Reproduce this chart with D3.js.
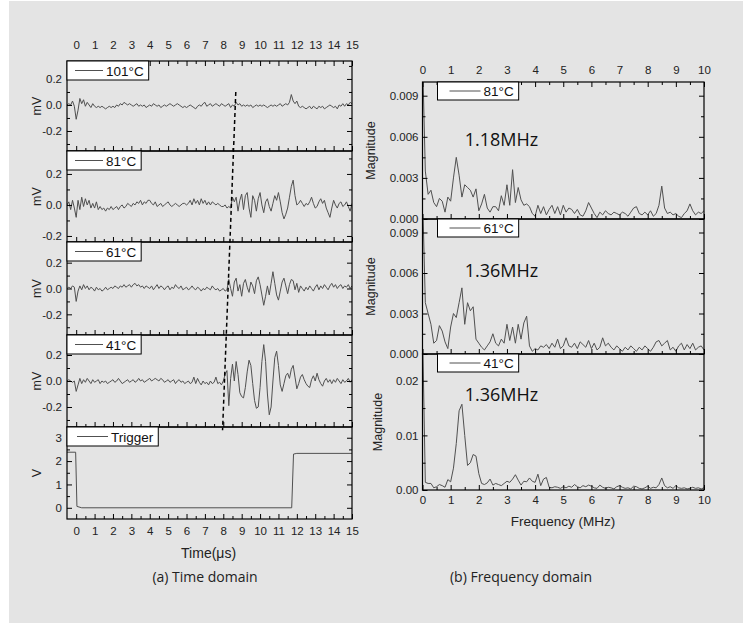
<!DOCTYPE html>
<html>
<head>
<meta charset="utf-8">
<script src="https://cdn.jsdelivr.net/npm/d3@7"></script>
<style>
  body { margin: 0; background: #fff; }
  svg { display: block; }
</style>
</head>
<body>
<div id="chart"></div>
<script>
// scope traces, sampled every 0.1 us from -0.5 us
var timeStart = -0.5;
var timeStep = 0.1;

var trace101 = [
  0.00, 0.01, 0.00, 0.03, -0.01,
  -0.11, -0.04, 0.05, 0.01, 0.04, -0.01, 0.02, 0.00, -0.02, 0.01,
  -0.01, -0.02, -0.01, -0.02, -0.01, -0.02, -0.03, -0.02, -0.01, -0.02,
  -0.01, -0.02, 0.00, -0.01, 0.01, 0.00, 0.02, 0.01, 0.00, 0.01,
  0.00, -0.01, 0.00, 0.01, -0.01, 0.00, -0.01, 0.00, -0.02, -0.01,
  0.00, -0.01, 0.01, 0.00, -0.01, 0.00, -0.02, -0.01, 0.00, -0.01,
  0.00, 0.01, 0.00, -0.01, 0.00, 0.01, 0.00, -0.01, -0.02, -0.01,
  -0.02, -0.01, 0.00, -0.01, -0.02, -0.03, -0.01, 0.00, -0.01, 0.01,
  0.02, -0.01, 0.00, 0.01, -0.01, 0.00, 0.01, 0.00, -0.01, 0.01,
  0.00, -0.01, 0.00, 0.01, -0.02, 0.00, -0.01, 0.02, 0.00, 0.01,
  -0.01, 0.00, -0.01, 0.00, -0.01, 0.00, -0.02, -0.01, 0.00, -0.01,
  0.00, -0.01, 0.00, -0.01, -0.02, -0.01, 0.00, -0.01, 0.00, -0.01,
  0.00, 0.01, -0.01, 0.00, 0.01, 0.00, 0.02, 0.08, 0.03, 0.01,
  0.03, -0.01, -0.02, -0.01, -0.02, -0.03, -0.02, -0.01, -0.03, -0.01,
  -0.02, -0.03, -0.01, -0.02, -0.01, -0.03, -0.02, -0.01, 0.00, -0.01,
  -0.02, -0.01, -0.03, 0.00, -0.01, 0.01, -0.01, 0.01, 0.00, 0.02,
  0.01
];

var trace81 = [
  0.00, 0.02, -0.03, 0.03, -0.02,
  -0.08, 0.03, -0.03, 0.05, -0.01, 0.04, 0.00, 0.03, -0.02, 0.01,
  -0.02, 0.02, -0.03, -0.01, -0.03, -0.02, -0.04, -0.02, -0.03, -0.01,
  -0.03, -0.02, -0.01, -0.03, -0.01, 0.00, -0.02, -0.01, 0.01, 0.00,
  -0.01, 0.01, 0.00, 0.02, 0.01, 0.03, 0.00, 0.02, 0.01, 0.03,
  0.03, 0.01, 0.00, 0.02, -0.01, 0.00, 0.01, -0.01, 0.00, 0.01,
  0.02, 0.00, -0.01, 0.00, 0.01, 0.00, -0.01, 0.00, 0.01, 0.01,
  0.00, 0.01, 0.03, 0.00, 0.04, 0.01, 0.03, 0.00, 0.04, 0.01,
  0.03, 0.00, 0.02, 0.00, 0.02, 0.01, 0.00, 0.01, 0.00, -0.01,
  -0.01, 0.00, -0.02, -0.01, -0.02, 0.05, 0.02, 0.05, -0.04, 0.03,
  0.07, -0.03, 0.06, 0.08, -0.02, -0.08, 0.06, 0.03, -0.04, 0.04,
  0.08, 0.00, -0.05, 0.02, 0.04, -0.01, -0.04, 0.01, 0.06, 0.03,
  0.08, 0.02, -0.05, -0.09, -0.06, -0.02, 0.05, 0.12, 0.16, 0.06,
  0.00, 0.01, 0.03, 0.01, -0.01, 0.01, 0.00, 0.02, 0.05, 0.01,
  -0.02, -0.01, 0.02, 0.04, 0.01, 0.03, -0.02, -0.05, -0.08, -0.02,
  0.03, 0.00, -0.02, 0.01, 0.02, -0.01, 0.00, 0.02, -0.01, -0.04,
  0.01
];

var trace61 = [
  0.00, 0.01, 0.00, 0.02, 0.01,
  -0.10, -0.02, 0.02, -0.01, 0.03, 0.00, 0.02, -0.01, 0.01, 0.00,
  -0.02, 0.01, -0.01, 0.00, -0.02, -0.01, 0.01, -0.01, 0.00, 0.01,
  0.00, 0.02, 0.01, 0.00, 0.02, 0.01, 0.03, 0.01, 0.02, 0.03,
  0.01, 0.03, 0.04, 0.02, 0.03, 0.01, 0.02, 0.00, 0.02, 0.01,
  0.00, 0.02, -0.01, 0.01, 0.03, 0.00, 0.02, 0.01, -0.01, 0.01,
  0.02, -0.01, 0.01, 0.00, 0.03, 0.01, 0.00, 0.02, -0.01, 0.00,
  0.01, -0.01, 0.00, 0.02, 0.00, -0.01, 0.01, 0.00, -0.02, 0.00,
  -0.01, 0.01, 0.00, -0.01, 0.02, 0.00, -0.01, 0.00, -0.02, -0.01,
  0.00, -0.02, -0.01, 0.07, 0.00, -0.06, 0.05, 0.08, -0.02, 0.03,
  -0.06, 0.04, 0.07, 0.01, -0.03, 0.05, 0.02, -0.04, 0.06, 0.09,
  0.03, -0.05, -0.13, -0.06, 0.02, -0.05, 0.04, 0.13, 0.04, -0.05,
  -0.09, -0.02, 0.05, 0.08, 0.02, -0.04, 0.03, 0.07, 0.06, -0.01,
  0.04, -0.03, 0.02, 0.00, -0.02, 0.01, -0.01, 0.02, 0.00, -0.02,
  0.01, 0.03, -0.01, 0.02, 0.00, 0.03, 0.01, -0.01, 0.02, 0.04,
  0.01, 0.03, 0.00, 0.02, 0.03, 0.00, 0.02, 0.01, 0.03, 0.00,
  0.02
];

var trace41 = [
  0.00, 0.01, 0.00, -0.01, 0.00,
  -0.08, -0.03, 0.02, -0.02, 0.01, -0.01, 0.02, 0.00, -0.02, 0.01,
  -0.01, 0.00, 0.01, -0.02, 0.00, -0.01, 0.00, -0.02, -0.01, 0.00,
  0.01, -0.01, 0.00, 0.02, 0.00, -0.02, -0.01, 0.00, 0.01, -0.01,
  0.00, 0.01, -0.01, 0.00, 0.02, 0.00, 0.01, -0.01, 0.00, 0.01,
  0.02, 0.00, 0.01, 0.02, 0.01, 0.00, 0.02, 0.01, -0.01, 0.00,
  0.01, -0.01, 0.00, 0.01, -0.02, 0.00, 0.01, -0.01, 0.00, -0.02,
  -0.01, 0.00, -0.02, -0.01, 0.03, -0.02, 0.02, -0.01, -0.03, 0.00,
  -0.02, -0.01, -0.03, 0.00, -0.02, -0.01, 0.03, -0.02, -0.01, -0.03,
  0.00, 0.05, 0.08, -0.19, 0.02, 0.13, 0.00, 0.15, 0.05, -0.09,
  -0.12, -0.13, -0.05, 0.07, 0.16, 0.12, -0.02, -0.15, -0.21, -0.20,
  -0.05, 0.15, 0.28, 0.15, -0.10, -0.26, -0.20, 0.00, 0.18, 0.23,
  0.12, -0.03, -0.08, -0.02, 0.04, 0.06, 0.02, 0.09, 0.12, 0.03,
  -0.06, -0.02, 0.03, 0.05, 0.01, -0.02, -0.04, -0.05, 0.01, 0.04,
  0.00, 0.06, 0.01, -0.02, -0.04, 0.00, 0.02, -0.01, 0.01, -0.02,
  0.01, -0.01, 0.02, 0.00, -0.02, 0.01, -0.01, 0.00, 0.02, -0.01,
  0.01
];

var triggerT = [-0.5, -0.03, 0.04, 0.3, 11.72, 11.82, 12.0, 15.0];
var triggerV = [2.38, 2.38, 0.06, 0.0, 0.0, 2.30, 2.33, 2.33];

// spectra, sampled every 0.1 MHz from 0
var freqStep = 0.1;

var spec81 = [
  0.0120, 0.0035, 0.0018, 0.0021, 0.0012, 0.0009, 0.0015, 0.0013, 0.0005, 0.0016,
  0.0013, 0.0030, 0.0045, 0.0032, 0.0016, 0.0025, 0.0023, 0.0021, 0.0016, 0.0022,
  0.0006, 0.0011, 0.0018, 0.0008, 0.0005, 0.0009, 0.0009, 0.0006, 0.0017, 0.0010,
  0.0025, 0.0010, 0.0036, 0.0012, 0.0023, 0.0014, 0.0010, 0.0011, 0.0009, 0.0004,
  0.0002, 0.0010, 0.0004, 0.0009, 0.0003, 0.0007, 0.0010, 0.0004, 0.0009, 0.0003,
  0.0010, 0.0005, 0.0008, 0.0007, 0.0004, 0.0007, 0.0003, 0.0002, 0.0006, 0.0012,
  0.0008, 0.0004, 0.0001, 0.0005, 0.0003, 0.0006, 0.0004, 0.0003, 0.0005, 0.0004,
  0.0003, 0.0005, 0.0004, 0.0002, 0.0005, 0.0008, 0.0009, 0.0004, 0.0003, 0.0005,
  0.0003, 0.0006, 0.0002, 0.0004, 0.0010, 0.0024, 0.0008, 0.0004, 0.0005, 0.0003,
  0.0004, 0.0002, 0.0001, 0.0004, 0.0006, 0.0011, 0.0006, 0.0003, 0.0005, 0.0004,
  0.0006
];

var spec61 = [
  0.0120, 0.0038, 0.0030, 0.0022, 0.0008, 0.0010, 0.0021, 0.0017, 0.0009, 0.0004,
  0.0020, 0.0030, 0.0027, 0.0038, 0.0049, 0.0022, 0.0038, 0.0032, 0.0035, 0.0011,
  0.0008, 0.0005, 0.0003, 0.0006, 0.0009, 0.0015, 0.0008, 0.0006, 0.0011, 0.0008,
  0.0022, 0.0010, 0.0020, 0.0008, 0.0022, 0.0011, 0.0023, 0.0028, 0.0006, 0.0002,
  0.0004, 0.0003, 0.0006, 0.0005, 0.0007, 0.0004, 0.0008, 0.0005, 0.0011, 0.0004,
  0.0006, 0.0012, 0.0006, 0.0005, 0.0008, 0.0004, 0.0009, 0.0007, 0.0005, 0.0010,
  0.0004, 0.0008, 0.0003, 0.0005, 0.0012, 0.0006, 0.0008, 0.0005, 0.0003, 0.0006,
  0.0004, 0.0002, 0.0005, 0.0003, 0.0006, 0.0004, 0.0002, 0.0005, 0.0003, 0.0006,
  0.0004, 0.0002, 0.0005, 0.0009, 0.0010, 0.0006, 0.0008, 0.0010, 0.0003, 0.0005,
  0.0002, 0.0006, 0.0008, 0.0003, 0.0007, 0.0004, 0.0008, 0.0003, 0.0005, 0.0006,
  0.0003
];

var spec41 = [
  0.0300, 0.0014, 0.0012, 0.0012, 0.0004, 0.0006, 0.0010, 0.0008, 0.0005, 0.0019,
  0.0015, 0.0040, 0.0085, 0.0145, 0.0157, 0.0100, 0.0045, 0.0050, 0.0065, 0.0062,
  0.0030, 0.0012, 0.0010, 0.0013, 0.0020, 0.0009, 0.0012, 0.0010, 0.0008, 0.0012,
  0.0016, 0.0014, 0.0020, 0.0028, 0.0018, 0.0009, 0.0016, 0.0015, 0.0022, 0.0016,
  0.0014, 0.0029, 0.0008, 0.0020, 0.0023, 0.0005, 0.0004, 0.0006, 0.0005, 0.0003,
  0.0006, 0.0004, 0.0007, 0.0005, 0.0010, 0.0006, 0.0004, 0.0008, 0.0006, 0.0009,
  0.0007, 0.0004, 0.0003, 0.0009, 0.0005, 0.0003, 0.0005, 0.0004, 0.0002, 0.0006,
  0.0008, 0.0005, 0.0003, 0.0004, 0.0002, 0.0007, 0.0006, 0.0003, 0.0002, 0.0004,
  0.0007, 0.0003, 0.0005, 0.0004, 0.0010, 0.0022, 0.0008, 0.0004, 0.0006, 0.0003,
  0.0008, 0.0004, 0.0003, 0.0004, 0.0002, 0.0003, 0.0005, 0.0003, 0.0004, 0.0002,
  0.0004
];

// tick labels
var timeTicks = [0, 1, 2, 3, 4, 5, 6, 7, 8, 9, 10, 11, 12, 13, 14, 15];
var freqTicks = [0, 1, 2, 3, 4, 5, 6, 7, 8, 9, 10];
var mvTicks = [-0.2, 0.0, 0.2];
var voltTicks = [0, 1, 2, 3];
var magTicks = [0, 0.003, 0.006, 0.009];
var magTicks41 = [0, 0.01, 0.02];

// arrival line drawn across the traces: [time, panel, value]
var arrivalStart = [8.68, 0, 0.10];
var arrivalEnd = [7.96, 4, 3.32];

// peak notes: [freq, magnitude, text]
var peakNotes = [
  [1.5, 0.0053, "1.18MHz"],
  [1.5, 0.0057, "1.36MHz"],
  [1.5, 0.0163, "1.36MHz"]
];

var FONT = "'Liberation Sans', Arial, sans-serif";
var FONT2 = "'Open Sans', 'Noto Sans', sans-serif";
var lineColor = "#505050";

var svg = d3.select("#chart").append("svg")
  .attr("width", 743)
  .attr("height", 623);

svg.append("rect")
  .attr("x", 9).attr("y", 1)
  .attr("width", 734).attr("height", 622)
  .attr("fill", "#e4e4e4");

var fmt1 = function(d) { return d.toFixed(1); };
var fmt0 = function(d) { return String(d); };
var fmt3 = function(d) { return d.toFixed(3); };
var fmt2 = function(d) { return d.toFixed(2); };

function styleAxis(a, labels) {
  a.select(".domain").remove();
  a.selectAll("line").attr("stroke", "#000").attr("stroke-width", 1);
  a.selectAll("text")
    .attr("font-family", FONT)
    .attr("font-size", 11.5)
    .attr("fill", "#222");
  if (!labels) a.selectAll("text").remove();
}

function minorTicks(major, step, domain) {
  var out = [];
  var lo = major[0] - step * 4, hi = major[major.length - 1] + step * 4;
  for (var v = lo; v <= hi + 1e-9; v += step) {
    var r = Math.round(v / step) * step;
    var isMajor = major.some(function(m) { return Math.abs(m - r) < step / 10; });
    if (!isMajor && r > domain[0] && r < domain[1]) out.push(r);
  }
  return out;
}

var clipId = 0;

function drawPanel(x, y, p) {
  var g = svg.append("g");
  var x0 = x.range()[0], x1 = x.range()[1];
  var y0 = y.range()[1], y1 = y.range()[0];
  var yMinor = minorTicks(p.major, p.minorStep, y.domain());
  var xMinor = minorTicks(p.xMajor, p.xMinorStep, x.domain());

  // trace
  var id = "clip" + (clipId++);
  svg.append("clipPath").attr("id", id)
    .append("rect")
    .attr("x", x0).attr("y", y0)
    .attr("width", x1 - x0).attr("height", y1 - y0);
  g.append("path")
    .datum(p.points)
    .attr("clip-path", "url(#" + id + ")")
    .attr("fill", "none")
    .attr("stroke", lineColor)
    .attr("stroke-width", 1)
    .attr("stroke-linejoin", "round")
    .attr("d", d3.line().x(function(d) { return x(d[0]); }).y(function(d) { return y(d[1]); }));

  // ticks on all four sides, pointing in
  styleAxis(g.append("g").attr("transform", "translate(" + x0 + ",0)")
    .call(d3.axisLeft(y).tickValues(p.major).tickSizeInner(-5).tickSizeOuter(0).tickPadding(p.yPad).tickFormat(p.fmt)), true);
  styleAxis(g.append("g").attr("transform", "translate(" + x0 + ",0)")
    .call(d3.axisLeft(y).tickValues(yMinor).tickSize(-3).tickFormat("")), false);
  styleAxis(g.append("g").attr("transform", "translate(" + x1 + ",0)")
    .call(d3.axisRight(y).tickValues(p.major).tickSize(-5).tickFormat("")), false);
  styleAxis(g.append("g").attr("transform", "translate(" + x1 + ",0)")
    .call(d3.axisRight(y).tickValues(yMinor).tickSize(-3).tickFormat("")), false);

  styleAxis(g.append("g").attr("transform", "translate(0," + y1 + ")")
    .call(d3.axisBottom(x).tickValues(p.xMajor).tickSizeInner(-5).tickSizeOuter(0).tickPadding(p.bottomPad || 8).tickFormat(fmt0)), p.bottomLabels);
  styleAxis(g.append("g").attr("transform", "translate(0," + y1 + ")")
    .call(d3.axisBottom(x).tickValues(xMinor).tickSize(-3).tickFormat("")), false);
  if (p.topTicks) {
    styleAxis(g.append("g").attr("transform", "translate(0," + y0 + ")")
      .call(d3.axisTop(x).tickValues(p.xMajor).tickSizeInner(-5).tickSizeOuter(0).tickPadding(p.topPad).tickFormat(fmt0)), true);
    styleAxis(g.append("g").attr("transform", "translate(0," + y0 + ")")
      .call(d3.axisTop(x).tickValues(xMinor).tickSize(-3).tickFormat("")), false);
  }

  // frame
  g.append("rect")
    .attr("x", x0).attr("y", y0)
    .attr("width", x1 - x0).attr("height", y1 - y0)
    .attr("fill", "none")
    .attr("stroke", "#000")
    .attr("stroke-width", 1.2);

  // legend
  var lg = g.append("g").attr("transform", "translate(" + (x0 + p.legendDx) + "," + y0 + ")");
  var box = lg.append("rect")
    .attr("x", 0).attr("y", 0)
    .attr("height", p.legendH)
    .attr("fill", "#fff")
    .attr("stroke", "#000")
    .attr("stroke-width", 1);
  lg.append("line")
    .attr("x1", p.lineX1).attr("x2", p.lineX2)
    .attr("y1", p.legendH / 2).attr("y2", p.legendH / 2)
    .attr("stroke", lineColor).attr("stroke-width", 1);
  var t = lg.append("text")
    .attr("x", p.lineX2 + 3).attr("y", p.legendH / 2 + 5)
    .attr("font-family", FONT).attr("font-size", 13.5).attr("fill", "#111")
    .text(p.key);
  box.attr("width", p.lineX2 + 3 + t.node().getComputedTextLength() + 5);

  // axis title
  svg.append("text")
    .attr("transform", "translate(" + p.titleX + "," + ((y0 + y1) / 2) + ") rotate(-90)")
    .attr("text-anchor", "middle")
    .attr("font-family", FONT).attr("font-size", 12.5).attr("fill", "#222")
    .text(p.unit);
  return g;
}

// ---------- (a) time domain ----------
var lx = d3.scaleLinear().domain([-0.5, 15]).range([67, 352]);

function toPoints(values) {
  return values.map(function(v, i) { return [timeStart + i * timeStep, v]; });
}

var leftPanels = [
  { key: "101°C", values: trace101, top: 61, bottom: 151, domain: [-0.354, 0.338] },
  { key: "81°C", values: trace81, top: 151, bottom: 242, domain: [-0.239, 0.348] },
  { key: "61°C", values: trace61, top: 242, bottom: 335, domain: [-0.36, 0.36] },
  { key: "41°C", values: trace41, top: 335, bottom: 427, domain: [-0.354, 0.354] },
  { key: "Trigger", top: 427, bottom: 519, domain: [-0.48, 3.46] }
];

var leftY = [];
leftPanels.forEach(function(p, i) {
  var y = d3.scaleLinear().domain(p.domain).range([p.bottom, p.top]);
  leftY.push(y);
  var isTrig = p.key === "Trigger";
  drawPanel(lx, y, {
    key: p.key,
    points: isTrig ? triggerT.map(function(t, j) { return [t, triggerV[j]]; }) : toPoints(p.values),
    major: isTrig ? voltTicks : mvTicks,
    minorStep: isTrig ? 0.5 : 0.1,
    fmt: isTrig ? fmt0 : fmt1,
    yPad: 5,
    xMajor: timeTicks,
    xMinorStep: 0.5,
    topTicks: i === 0,
    topPad: 12,
    bottomLabels: i === leftPanels.length - 1,
    bottomPad: 8,
    legendDx: 0,
    legendH: 19,
    lineX1: isTrig ? 10 : 8,
    lineX2: isTrig ? 41 : 36,
    titleX: 41,
    unit: isTrig ? "V" : "mV"
  });
});

// arrival line
svg.append("line")
  .attr("x1", lx(arrivalStart[0])).attr("y1", leftY[arrivalStart[1]](arrivalStart[2]))
  .attr("x2", lx(arrivalEnd[0])).attr("y2", leftY[arrivalEnd[1]](arrivalEnd[2]))
  .attr("stroke", "#000")
  .attr("stroke-width", 1.5)
  .attr("stroke-dasharray", "4,3");

svg.append("text")
  .attr("x", lx(7.2)).attr("y", 558)
  .attr("text-anchor", "middle")
  .attr("font-family", FONT).attr("font-size", 14).attr("fill", "#222")
  .text("Time(μs)");

svg.append("text")
  .attr("x", 205).attr("y", 582)
  .attr("text-anchor", "middle")
  .attr("font-family", FONT2).attr("font-size", 14).attr("fill", "#222")
  .text("(a) Time domain");

// ---------- (b) frequency domain ----------
var rx = d3.scaleLinear().domain([0, 10]).range([422.5, 704]);

var rightPanels = [
  { key: "81°C", values: spec81, top: 82, bottom: 219, domain: [0, 0.01], ticks: magTicks, minorStep: 0.0015, fmt: fmt3, titleX: 375 },
  { key: "61°C", values: spec61, top: 219, bottom: 354, domain: [0, 0.01], ticks: magTicks, minorStep: 0.0015, fmt: fmt3, titleX: 375 },
  { key: "41°C", values: spec41, top: 354, bottom: 490, domain: [0, 0.0249], ticks: magTicks41, minorStep: 0.005, fmt: fmt2, titleX: 382 }
];

rightPanels.forEach(function(p, i) {
  var y = d3.scaleLinear().domain(p.domain).range([p.bottom, p.top]);
  drawPanel(rx, y, {
    key: p.key,
    points: p.values.map(function(v, j) { return [j * freqStep, v]; }),
    major: p.ticks,
    minorStep: p.minorStep,
    fmt: p.fmt,
    yPad: 4,
    xMajor: freqTicks,
    xMinorStep: 0.5,
    topTicks: i === 0,
    topPad: 8,
    bottomLabels: i === rightPanels.length - 1,
    bottomPad: 6,
    legendDx: 15,
    legendH: 18,
    lineX1: 12,
    lineX2: 43,
    titleX: p.titleX,
    unit: "Magnitude"
  });
  var note = peakNotes[i];
  svg.append("text")
    .attr("x", rx(note[0])).attr("y", y(note[1]))
    .attr("font-family", FONT2).attr("font-size", 18).attr("fill", "#111")
    .text(note[2]);
});

svg.append("text")
  .attr("x", 563).attr("y", 526)
  .attr("text-anchor", "middle")
  .attr("font-family", FONT).attr("font-size", 13.5).attr("fill", "#222")
  .text("Frequency (MHz)");

svg.append("text")
  .attr("x", 521).attr("y", 582)
  .attr("text-anchor", "middle")
  .attr("font-family", FONT2).attr("font-size", 14).attr("fill", "#222")
  .text("(b) Frequency domain");
</script>
</body>
</html>
